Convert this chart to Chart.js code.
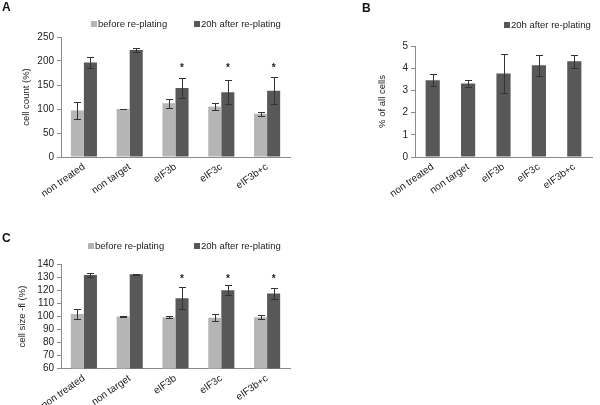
<!DOCTYPE html>
<html>
<head>
<meta charset="utf-8">
<title>Cell count, share and size after re-plating</title>
<script src="https://cdn.jsdelivr.net/npm/chart.js@4.4.0/dist/chart.umd.min.js"></script>
<style>
  body { margin: 0; background: #fff; }
  #wrap { position: relative; width: 600px; height: 405px; overflow: hidden; }
  canvas { position: absolute; }
  .tag { position: absolute; font: bold 12px 'Liberation Sans', Arial, sans-serif; line-height: 12px; color: #111; }
</style>
</head>
<body>
<div id="wrap">
  <canvas id="chartA" width="300" height="200" style="left:0;top:0"></canvas>
  <canvas id="chartB" width="300" height="200" style="left:300px;top:0"></canvas>
  <canvas id="chartC" width="300" height="205" style="left:0;top:200px"></canvas>
  <div class="tag" style="left:2px;top:1px">A</div>
  <div class="tag" style="left:362px;top:2px">B</div>
  <div class="tag" style="left:2px;top:232px">C</div>
</div>
<script>
// groups and series
const categories = ['non treated', 'non target', 'eIF3b', 'eIF3c', 'eIF3b+c'];
const seriesNames = ['before re-plating', '20h after re-plating'];
const significant = [false, false, true, true, true];

// A - cell count (%)
const countBefore = [97, 100, 112, 105, 90];
const countBeforeErr = [18, 1, 9, 7, 4];
const countAfter = [197, 223, 144, 135, 138];
const countAfterErr = [12, 4, 21, 25, 28];
const countTicks = [0, 50, 100, 150, 200, 250];
const countStarLevel = 190;

// B - % of all cells
const shareAfter = [3.46, 3.31, 3.76, 4.13, 4.31];
const shareAfterErr = [0.28, 0.14, 0.88, 0.46, 0.28];
const shareTicks = [0, 1, 2, 3, 4, 5];

// C - cell size -fl (%)
const sizeBefore = [102, 100, 99.5, 99, 99.4];
const sizeBeforeErr = [3.8, 0.3, 0.7, 2.8, 1.4];
const sizeAfter = [132, 132.5, 114, 120.2, 117.6];
const sizeAfterErr = [1.8, 0.3, 8.5, 4, 4.2];
const sizeTicks = [60, 70, 80, 90, 100, 110, 120, 130, 140];
const sizeStarLevel = 130;

const LIGHT = '#b5b5b5';
const DARK = '#585858';
const AXIS = '#8a8a8a';
const TEXT = '#222';
const FONT = "'Liberation Sans', Arial, sans-serif";

Chart.defaults.font.family = FONT;

// whiskers drawn at each bar through the y scale
const errorBars = {
    id: 'errorBars',
    afterDatasetsDraw(chart, args, opts) {
        const { ctx } = chart;
        const y = chart.scales.y;
        ctx.save();
        ctx.strokeStyle = opts.color;
        ctx.lineWidth = 1;
        chart.data.datasets.forEach((ds, i) => {
            if (!ds.errors) return;
            chart.getDatasetMeta(i).data.forEach((bar, j) => {
                const x = Math.round(bar.x) + 0.5;
                const top = Math.round(y.getPixelForValue(ds.data[j] + ds.errors[j])) + 0.5;
                const bottom = Math.round(y.getPixelForValue(ds.data[j] - ds.errors[j])) + 0.5;
                ctx.beginPath();
                ctx.moveTo(x, top); ctx.lineTo(x, bottom);
                ctx.moveTo(x - opts.cap, top); ctx.lineTo(x + opts.cap, top);
                ctx.moveTo(x - opts.cap, bottom); ctx.lineTo(x + opts.cap, bottom);
                ctx.stroke();
            });
        });
        ctx.restore();
    }
};

// asterisks over significant groups
const starMarks = {
    id: 'starMarks',
    afterDatasetsDraw(chart, args, opts) {
        if (opts.level == null) return;
        const { ctx } = chart;
        const idx = chart.data.datasets.length - 1;
        const meta = chart.getDatasetMeta(idx);
        ctx.save();
        ctx.fillStyle = TEXT;
        ctx.font = 'bold 10px ' + FONT;
        ctx.textAlign = 'center';
        ctx.textBaseline = 'middle';
        meta.data.forEach((bar, j) => {
            if (significant[j]) ctx.fillText('*', bar.x, chart.scales.y.getPixelForValue(opts.level) + 2);
        });
        ctx.restore();
    }
};

// small square legend, Excel style
const boxLegend = {
    id: 'boxLegend',
    afterDraw(chart, args, opts) {
        const { ctx } = chart;
        ctx.save();
        ctx.font = '9.5px ' + FONT;
        ctx.textBaseline = 'middle';
        chart.data.datasets.forEach((ds, i) => {
            const x = opts.x[i];
            ctx.fillStyle = ds.backgroundColor;
            ctx.fillRect(x, opts.y - 3, 6, 6);
            ctx.fillStyle = TEXT;
            ctx.fillText(ds.label, x + 7, opts.y);
        });
        ctx.restore();
    }
};

function buildChart(id, o) {
    return new Chart(document.getElementById(id), {
        type: 'bar',
        data: { labels: categories, datasets: o.datasets },
        options: {
            responsive: false,
            animation: false,
            layout: { padding: o.padding },
            datasets: { bar: { categoryPercentage: o.catPct, barPercentage: 1 } },
            plugins: {
                legend: { display: false },
                tooltip: { enabled: false },
                errorBars: { color: '#333', cap: 3.5 },
                starMarks: { level: o.starLevel },
                boxLegend: o.legend
            },
            scales: {
                x: {
                    grid: { display: true, drawOnChartArea: false, drawTicks: false },
                    border: { color: AXIS },
                    ticks: { font: { size: 10 }, color: TEXT, minRotation: 35, maxRotation: 35, padding: 4, autoSkip: false },
                    afterFit: s => { s.height = o.xHeight; }
                },
                y: {
                    min: o.ticks[0],
                    max: o.ticks[o.ticks.length - 1],
                    ticks: { stepSize: o.ticks[1] - o.ticks[0], font: { size: 10 }, color: TEXT, padding: 3, autoSkip: false },
                    grid: { drawOnChartArea: false, tickLength: 4, color: AXIS },
                    border: { color: AXIS },
                    title: { display: true, text: o.yTitle, color: TEXT, font: { size: 9.5 }, padding: { top: o.titleOffset, bottom: 0 } },
                    afterFit: s => { s.width = o.yWidth; }
                }
            }
        },
        plugins: [errorBars, starMarks, boxLegend]
    });
}

buildChart('chartA', {
    datasets: [
        { label: seriesNames[0], data: countBefore, errors: countBeforeErr, backgroundColor: LIGHT },
        { label: seriesNames[1], data: countAfter, errors: countAfterErr, backgroundColor: DARK }
    ],
    ticks: countTicks,
    yTitle: 'cell count (%)',
    starLevel: countStarLevel,
    catPct: 0.57,
    padding: { top: 37, right: 10, left: 0, bottom: 0 },
    yWidth: 61,
    xHeight: 43,
    titleOffset: 21,
    legend: { x: [91, 194], y: 24 }
});

buildChart('chartB', {
    datasets: [
        { label: seriesNames[1], data: shareAfter, errors: shareAfterErr, backgroundColor: DARK }
    ],
    ticks: shareTicks,
    yTitle: '% of all cells',
    starLevel: null,
    catPct: 0.4,
    padding: { top: 46, right: 8, left: 0, bottom: 0 },
    yWidth: 115,
    xHeight: 43,
    titleOffset: 77,
    legend: { x: [204], y: 25 }
});

buildChart('chartC', {
    datasets: [
        { label: seriesNames[0], data: sizeBefore, errors: sizeBeforeErr, backgroundColor: LIGHT },
        { label: seriesNames[1], data: sizeAfter, errors: sizeAfterErr, backgroundColor: DARK }
    ],
    ticks: sizeTicks,
    yTitle: 'cell size -fl (%)',
    starLevel: sizeStarLevel,
    catPct: 0.57,
    padding: { top: 64.5, right: 10, left: 0, bottom: 0 },
    yWidth: 61,
    xHeight: 36.5,
    titleOffset: 17,
    legend: { x: [88, 194], y: 46 }
});
</script>
</body>
</html>
